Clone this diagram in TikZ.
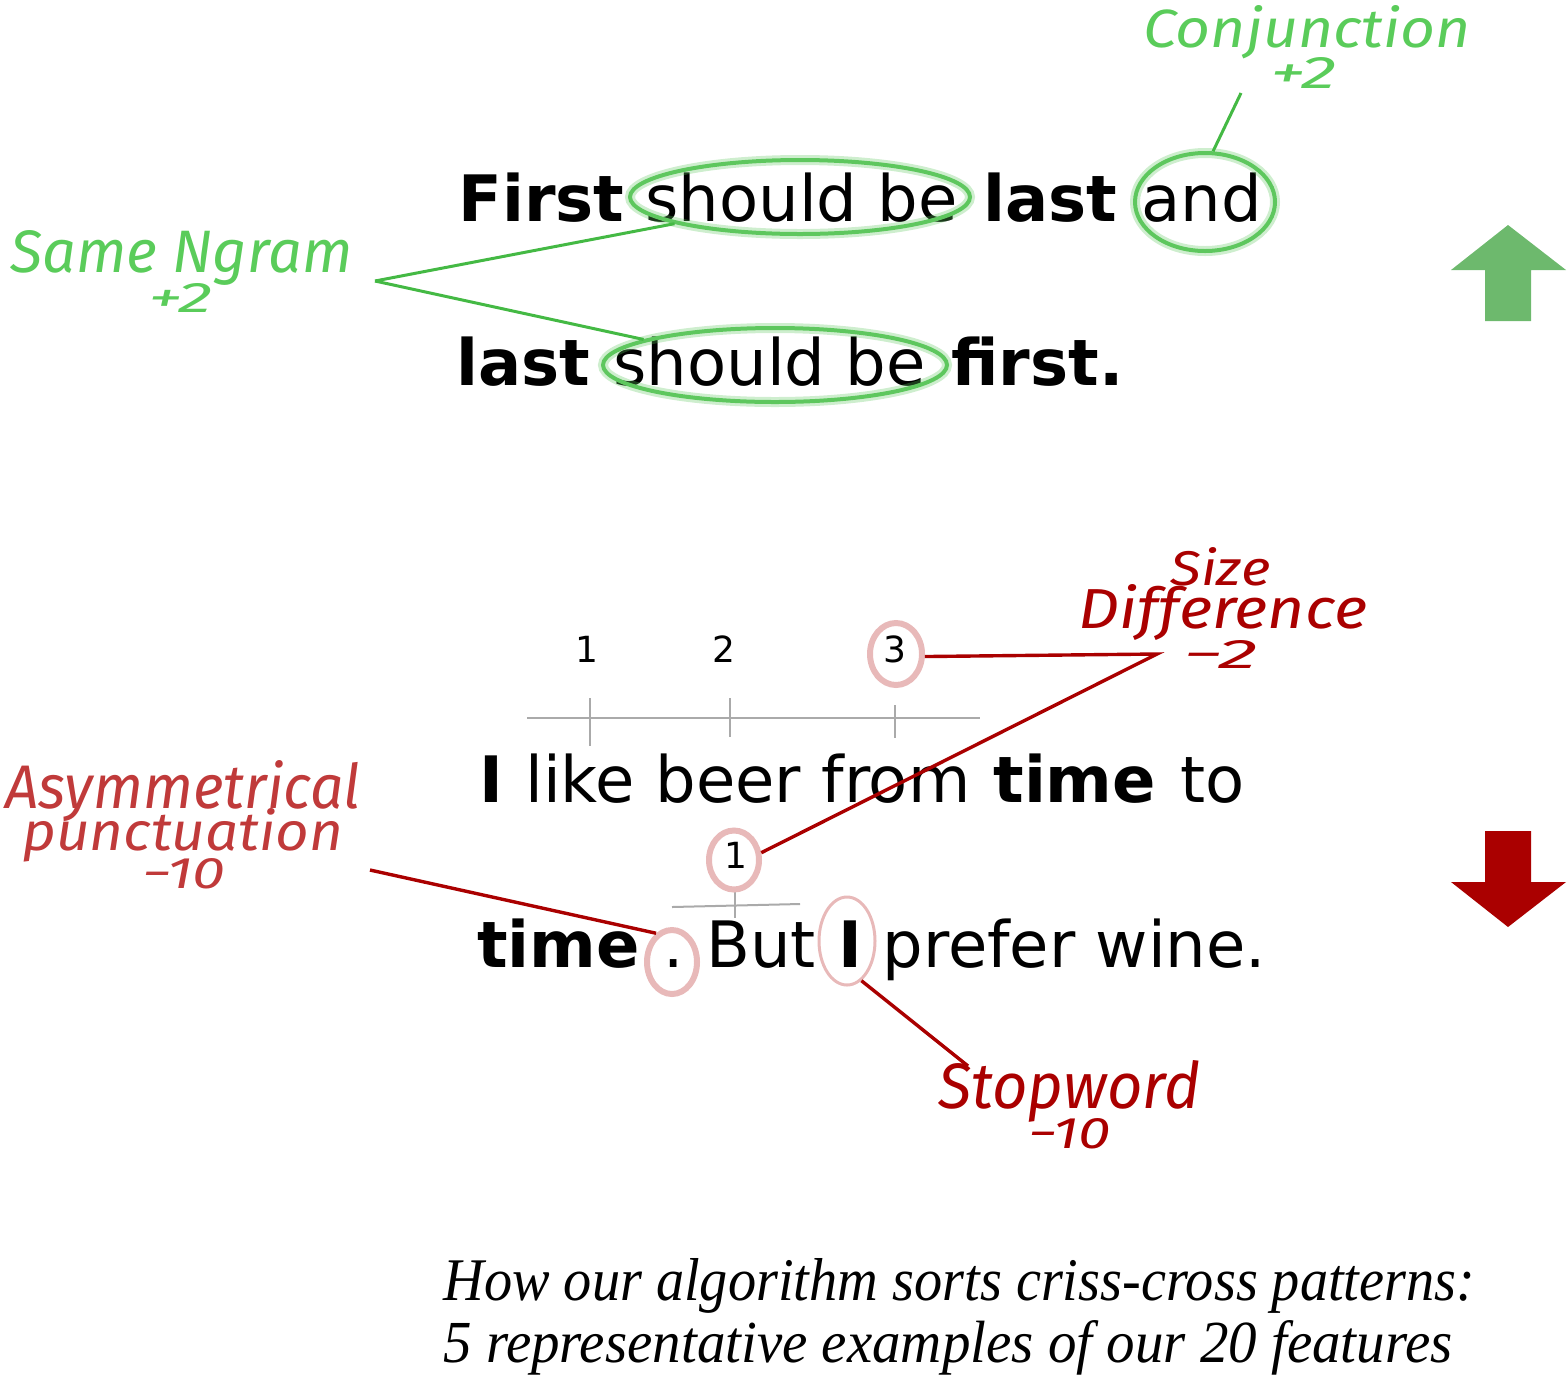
\documentclass[tikz,border=0pt]{standalone}
\usepackage{fontspec}
\setmainfont{DejaVu Sans}
\newfontfamily\hand{Fira Sans}
\newfontfamily\capfont{Liberation Serif}
\usetikzlibrary{shapes.geometric}
\definecolor{hgreen}{HTML}{5ACC5A}
\definecolor{lgreen}{HTML}{44B944}
\definecolor{egreen}{HTML}{5EC75E}
\definecolor{dred}{HTML}{AA0000}
\definecolor{mred}{HTML}{C03A3A}
\definecolor{pinkc}{HTML}{E8B9B9}
\definecolor{agreen}{HTML}{6DB96D}
\definecolor{rulegray}{HTML}{AAAAAA}
\tikzset{
  word/.style={anchor=base west, inner sep=0pt, font=\fontsize{32}{38}\selectfont},
  bword/.style={anchor=base west, inner sep=0pt, font=\fontsize{32}{38}\selectfont\bfseries},
  lab/.style={anchor=base west, inner sep=0pt},
  num/.style={anchor=base, inner sep=0pt, font=\fontsize{18}{20}\selectfont},
  glow/.style={ellipse, inner sep=0pt, draw=egreen, line width=2pt,
    preaction={draw=egreen, draw opacity=0.3, line width=5pt}},
  pinkring/.style={ellipse, inner sep=0pt, draw=pinkc, line width=3pt},
  gline/.style={draw=lgreen, line width=1.5pt},
  rline/.style={draw=dred, line width=1.7pt},
  ruler/.style={draw=rulegray, line width=1pt},
  tick/.style={draw=rulegray, line width=0.6pt},
}
\begin{document}
\begin{tikzpicture}[x=0.5pt,y=-0.5pt]
\useasboundingbox (0,0) rectangle (1567,1377);

% ---------- first example ----------
\node[bword] (w1) at (458,221) {First};
\node[word]  (w2) at (645,221) {should be};
\node[bword] (w3) at (983,221) {last};
\node[word]  (w4) at (1141,221) {and};
\node[bword] (w5) at (456,385) {last};
\node[word]  (w6) at (613,385) {should be};
\node[bword] (w7) at (951,385) {first.};

\node[glow, minimum width=170pt, minimum height=37pt] (e1) at (800,197) {};
\node[glow, minimum width=172pt, minimum height=37pt] (e2) at (775,365) {};
\node[glow, minimum width=70pt, minimum height=49pt] (e3) at (1205,202) {};

\coordinate (ng) at (375,281);
\coordinate (cj) at (1241,93);
\draw[gline] (ng) -- (e1.192);
\draw[gline] (ng) -- (e2.169);
\draw[gline] (e3.81) -- (cj);

\node[lab, text=hgreen] (l1) at (1143,47) {\resizebox{163.5pt}{21pt}{\hand\itshape Conjunction}};
\node[lab, text=hgreen] (l2) at (1270,88) {\resizebox{33pt}{15.5pt}{\hand\itshape +2}};
\node[lab, text=hgreen] (l3) at (10,272) {\resizebox{171pt}{21pt}{\hand\itshape Same Ngram}};
\node[lab, text=hgreen] (l4) at (148,312) {\resizebox{32pt}{14.5pt}{\hand\itshape +2}};

\fill[agreen] (1508,225) -- (1566,270) -- (1531,270) -- (1531,321) -- (1485,321) -- (1485,270) -- (1451,270) -- cycle;

% ---------- second example ----------
\draw[ruler] (527,718) -- (980,718);
\draw[tick] (590,698) -- (590,746);
\draw[tick] (730,698) -- (730,737);
\draw[tick] (895,705) -- (895,738);
\node[num] (n1) at (587,662) {1};
\node[num] (n2) at (724,662) {2};
\node[num] (n3) at (895,662) {3};

\node[bword] (v1) at (479,802) {I};
\node[word]  (v2) at (525,802) {like beer from};
\node[bword] (v3) at (993,802) {time};
\node[word]  (v4) at (1180,802) {to};
\node[bword] (v5) at (477,967) {time};
\node[word]  (v6) at (663,967) {.};
\node[word]  (v7) at (706,967) {But};
\node[bword] (v8) at (838,967) {I};
\node[word]  (v9) at (882,967) {prefer wine.};

\draw[ruler] (672,907) -- (800,904);
\draw[tick] (735,889) -- (735,918);
\node[num] (m1) at (736,868) {1};

\node[pinkring, minimum width=26pt, minimum height=31pt] (c3) at (896,654) {};
\node[pinkring, minimum width=25pt, minimum height=29.5pt] (c1) at (734,860) {};
\node[pinkring, minimum width=25pt, minimum height=32pt] (cd) at (672,962) {};
\node[pinkring, line width=1.5pt, minimum width=28pt, minimum height=44pt] (ci) at (847,941) {};

\coordinate (sd) at (1157,654);
\coordinate (ap) at (370,870);
\coordinate (sw) at (968,1066);
\draw[rline] (c3.-5) -- (sd) -- (c1.15);
\draw[rline] (ap) -- (cd.119);
\draw[rline] (ci.-70) -- (sw);

\node[lab, text=dred] (r1) at (1170,585) {\resizebox{50pt}{19pt}{\hand\itshape Size}};
\node[lab, text=dred] (r2) at (1078,628) {\resizebox{144.5pt}{22pt}{\hand\itshape Difference}};
\node[lab, text=dred] (r3) at (1183,668) {\resizebox{37pt}{14pt}{\hand\itshape −2}};
\node[lab, text=mred] (r4) at (5,808) {\resizebox{177.5pt}{24pt}{\hand\itshape Asymmetrical}};
\node[lab, text=mred] (r5) at (22,850) {\resizebox{160.5pt}{21pt}{\hand\itshape punctuation}};
\node[lab, text=mred] (r6) at (142,888) {\resizebox{41.5pt}{15pt}{\hand\itshape −10}};
\node[lab, text=dred] (r7) at (938,1108) {\resizebox{131pt}{24pt}{\hand\itshape Stopword}};
\node[lab, text=dred] (r8) at (1028,1148) {\resizebox{41pt}{15pt}{\hand\itshape −10}};

\fill[dred] (1485,831) -- (1531,831) -- (1531,882) -- (1566,882) -- (1508,927) -- (1451,882) -- (1485,882) -- cycle;

% ---------- caption ----------
\node[lab] (cap1) at (443,1300) {\resizebox{516pt}{21pt}{\capfont\itshape How our algorithm sorts criss-cross patterns:}};
\node[lab] (cap2) at (443,1362) {\resizebox{504.5pt}{21pt}{\capfont\itshape 5 representative examples of our 20 features}};
\end{tikzpicture}
\end{document}
